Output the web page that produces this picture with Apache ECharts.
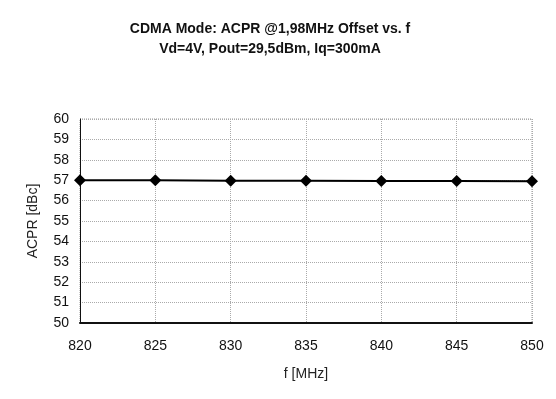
<!DOCTYPE html>
<html>
<head>
<meta charset="utf-8">
<script src="https://cdn.jsdelivr.net/npm/echarts@6/dist/echarts.min.js"></script>
<style>
  html, body { margin: 0; padding: 0; background: #fff; }
  #chart { width: 556px; height: 399px; }
</style>
</head>
<body>
<div id="chart"></div>
<script>
// 数据
var freq = [820, 825, 830, 835, 840, 845, 850];
var acpr = [57.0, 57.0, 56.97, 56.97, 56.96, 56.96, 56.95];
var titleLines = ['CDMA Mode: ACPR @1,98MHz Offset vs. f', 'Vd=4V, Pout=29,5dBm, Iq=300mA'];

var myChart = echarts.init(document.getElementById('chart'));

var points = [];
for (var i = 0; i < freq.length; i++) {
    points.push([freq[i], acpr[i]]);
}

var font = 'Liberation Sans, Arial, sans-serif';

option = {
    animation: false,
    title: {
        text: titleLines.join('\n'),
        left: 265,
        textAlign: 'center',
        top: 14,
        textStyle: {
            fontFamily: font,
            fontSize: 14,
            fontWeight: 'bold',
            color: '#111',
            lineHeight: 20
        }
    },
    grid: {
        left: 80,
        right: 24,
        top: 119,
        bottom: 76,
        show: true,
        borderColor: '#999',
        borderWidth: 1,
        borderType: 'dotted'
    },
    xAxis: {
        type: 'value',
        min: 820,
        max: 850,
        interval: 5,
        name: 'f [MHz]',
        nameLocation: 'middle',
        nameGap: 44,
        nameTextStyle: { fontFamily: font, fontSize: 14, color: '#222' },
        axisLine: { lineStyle: { color: '#111', width: 2 } },
        axisTick: { show: false },
        axisLabel: { fontFamily: font, fontSize: 14, color: '#111', margin: 16 },
        splitLine: { lineStyle: { color: '#aaa', type: 'dotted' } }
    },
    yAxis: {
        type: 'value',
        min: 50,
        max: 60,
        interval: 1,
        name: 'ACPR [dBc]',
        nameLocation: 'middle',
        nameGap: 40,
        nameTextStyle: { fontFamily: font, fontSize: 14, color: '#222' },
        axisLine: { show: true, lineStyle: { color: '#111', width: 1 } },
        axisTick: { show: false },
        axisLabel: { fontFamily: font, fontSize: 14, color: '#111', margin: 11 },
        splitLine: { lineStyle: { color: '#aaa', type: 'dotted' } }
    },
    series: [{
        type: 'line',
        data: points,
        symbol: 'diamond',
        symbolSize: 12,
        itemStyle: { color: '#000' },
        lineStyle: { color: '#000', width: 2 }
    }]
};

myChart.setOption(option);
</script>
</body>
</html>
